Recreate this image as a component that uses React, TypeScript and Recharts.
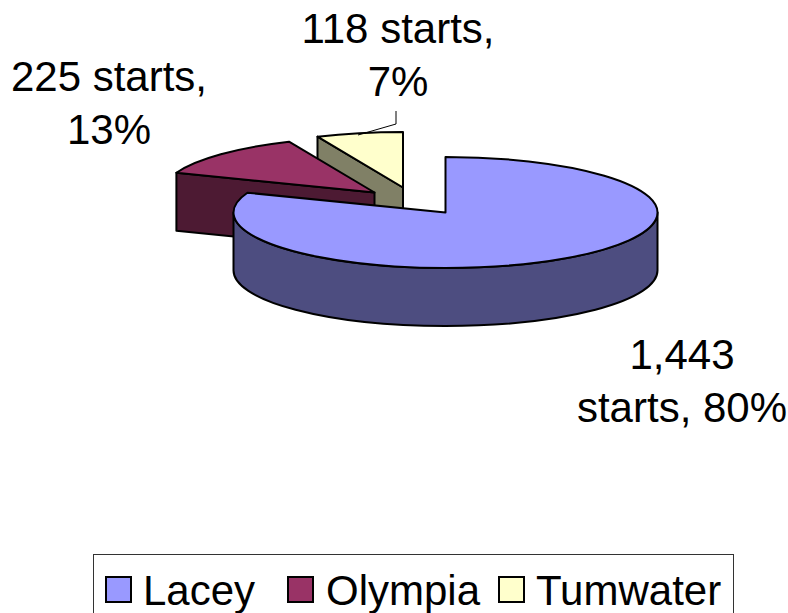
import { Legend, Pie, PieChart } from "recharts";

// Listed back to front: the pie runs counter-clockwise from 12 o'clock so Lacey paints last.
const cities = ["Tumwater", "Olympia", "Lacey"];
const starts = [118, 225, 1443];
const shares = [7, 13, 80];
const legendOrder = ["Lacey", "Olympia", "Tumwater"];

const topColors: Record<string, string> = { Lacey: "#9999ff", Olympia: "#993366", Tumwater: "#ffffcc" };
const sideColors: Record<string, string> = { Lacey: "#4d4d80", Olympia: "#4d1a33", Tumwater: "#808066" };

// How far each slice is pulled out of the pie
const explode: Record<string, { dx: number; dy: number }> = {
  Lacey: { dx: 0, dy: 0 },
  Olympia: { dx: -71, dy: -20 },
  Tumwater: { dx: -42.5, dy: -25 },
};

const labelSpots: Record<string, { x: number; y: number; lines: (v: string, p: number) => string[] }> = {
  Lacey: { x: 682, y: 369, lines: (v, p) => [v, `starts, ${p}%`] },
  Olympia: { x: 109, y: 91, lines: (v, p) => [`${v} starts,`, `${p}%`] },
  Tumwater: { x: 398, y: 43, lines: (v, p) => [`${v} starts,`, `${p}%`] },
};

// Legend slots inside the box: swatch left edge and text left edge
const legendSlots: Record<string, { swatch: number; text: number }> = {
  Lacey: { swatch: 11, text: 49 },
  Olympia: { swatch: 193, text: 232 },
  Tumwater: { swatch: 404, text: 442 },
};

const rows = cities.map((city, i) => ({ city, starts: starts[i], share: shares[i] }));

const FONT = "'Liberation Sans', Arial, sans-serif";
const TILT = 0.262;
const DEPTH = 58;

const rad = (deg: number) => (deg * Math.PI) / 180;

// Tilted 3D slice: an elliptical top face plus whichever side walls face the viewer
function Slice3D(props: any) {
  const { cx, cy, outerRadius, startAngle, endAngle, payload } = props;
  const city = payload.city as string;
  const ox = cx + explode[city].dx;
  const oy = cy + explode[city].dy;
  const rx = outerRadius;
  const ry = outerRadius * TILT;
  const s = Math.min(startAngle, endAngle);
  const e = Math.max(startAngle, endAngle);
  const px = (a: number) => ox + rx * Math.cos(rad(a));
  const py = (a: number) => oy - ry * Math.sin(rad(a));
  const line = { stroke: "#000", strokeWidth: 2, strokeLinejoin: "round" as const };

  const walls: string[] = [];
  // Radial cuts
  if (Math.cos(rad(s)) > 0.001) {
    walls.push(`M${ox},${oy} L${px(s)},${py(s)} V${py(s) + DEPTH} L${ox},${oy + DEPTH} Z`);
  }
  if (Math.cos(rad(e)) < -0.001) {
    walls.push(`M${ox},${oy} L${px(e)},${py(e)} V${py(e) + DEPTH} L${ox},${oy + DEPTH} Z`);
  }
  // Outer rim, front half only
  const from = Math.max(s, 180);
  const to = Math.min(e, 360);
  if (to > from) {
    walls.push(
      `M${px(from)},${py(from)} A${rx},${ry} 0 0 0 ${px(to)},${py(to)} ` +
        `V${py(to) + DEPTH} A${rx},${ry} 0 0 1 ${px(from)},${py(from) + DEPTH} Z`
    );
  }
  const large = e - s > 180 ? 1 : 0;
  const top = `M${ox},${oy} L${px(s)},${py(s)} A${rx},${ry} 0 ${large} 0 ${px(e)},${py(e)} Z`;

  return (
    <g>
      {walls.map((d, i) => (
        <path key={i} d={d} fill={sideColors[city]} {...line} />
      ))}
      <path d={top} fill={topColors[city]} {...line} />
    </g>
  );
}

function SliceLabel(props: any) {
  const city = props.payload.city as string;
  const spot = labelSpots[city];
  const lines = spot.lines(props.payload.starts.toLocaleString("en-US"), props.payload.share);
  return (
    <g>
      <text x={spot.x} y={spot.y} textAnchor="middle" fontFamily={FONT} fontSize={42} fill="#000">
        {lines.map((t, i) => (
          <tspan key={i} x={spot.x} dy={i === 0 ? 0 : 53}>
            {t}
          </tspan>
        ))}
      </text>
      {city === "Tumwater" && <polyline points="396,111 396,124 358,135" fill="none" stroke="#000" strokeWidth={1} />}
    </g>
  );
}

function ChartLegend() {
  return (
    <div
      style={{
        position: "relative",
        boxSizing: "border-box",
        width: 641,
        height: 59,
        border: "1px solid #333",
        borderBottom: "none",
        background: "#fff",
        fontFamily: FONT,
        fontSize: 42,
        lineHeight: "42px",
        color: "#000",
      }}
    >
      {legendOrder.map((name) => (
        <div key={name}>
          <span
            style={{
              position: "absolute",
              boxSizing: "border-box",
              left: legendSlots[name].swatch,
              top: 21,
              width: 27,
              height: 27,
              border: "2px solid #000",
              background: topColors[name],
            }}
          />
          <span style={{ position: "absolute", left: legendSlots[name].text, top: 15 }}>{name}</span>
        </div>
      ))}
    </div>
  );
}

export default function App() {
  return (
    <div style={{ position: "absolute", left: 0, top: 0, width: 788, height: 613, overflow: "hidden", background: "#fff" }}>
      <PieChart width={788} height={613} margin={{ top: 0, right: 0, bottom: 0, left: 0 }}>
        <Pie
          data={rows}
          dataKey="starts"
          nameKey="city"
          cx={445.5}
          cy={212.5}
          innerRadius={0}
          outerRadius={212}
          startAngle={90}
          endAngle={450}
          stroke="none"
          isAnimationActive={false}
          shape={Slice3D}
          label={SliceLabel}
          labelLine={false}
        />
        <Legend content={ChartLegend} wrapperStyle={{ left: 93, top: 554, bottom: "auto", width: 641 }} />
      </PieChart>
    </div>
  );
}
